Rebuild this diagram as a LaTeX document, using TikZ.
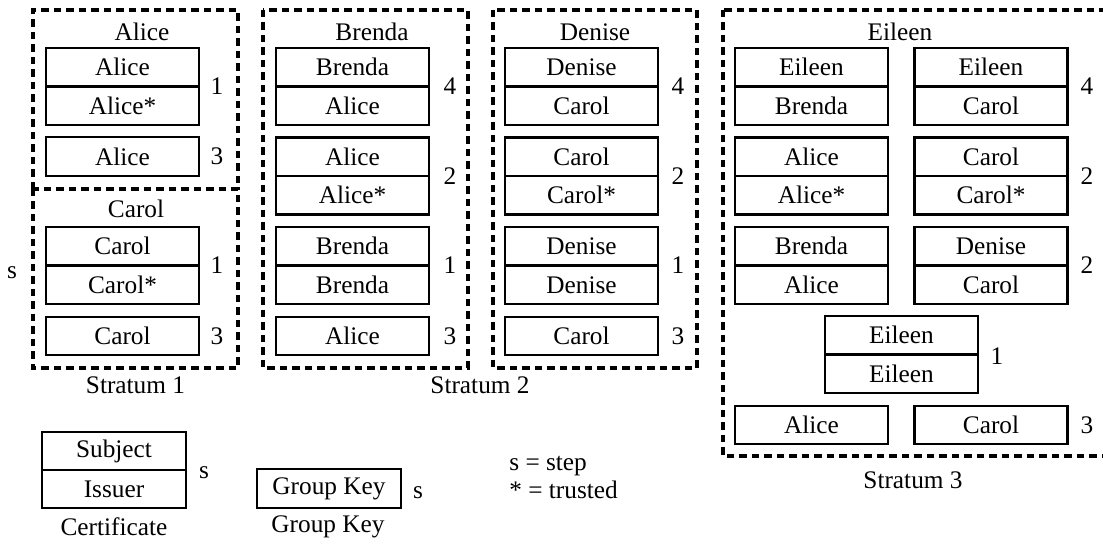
\documentclass[tikz,border=0pt]{standalone}
\usepackage{fontspec}
\setmainfont{Liberation Serif}

\tikzset{
    txt/.style = {inner sep=0pt, font=\fontsize{14.4}{17}\selectfont},
    cell/.style = {txt, draw, line width=1.3pt, minimum width=3.06cm, minimum height=0.77cm},
    stratum/.style = {line width=1.9pt, dash pattern=on 0.15cm off 0.1cm},
}

\begin{document}
\begin{tikzpicture}[x=0.02cm, y=-0.02cm]
                \useasboundingbox ( 0, 0 ) rectangle ( 1103, 544 );
                \clip ( 0, 0 ) rectangle ( 1103, 544 );

% страты (пунктир)
                \draw [stratum] ( 33, 189 ) -- ( 33, 10 ) -- ( 238, 10 ) -- ( 238, 189 );
                \draw [stratum] ( 33, 189 ) rectangle ( 238, 368 );
                \draw [stratum] ( 263, 10 ) rectangle ( 468, 368 );
                \draw [stratum] ( 493, 10 ) rectangle ( 697, 368 );
                \draw [stratum] ( 723, 10 ) rectangle ( 1125, 456 );

% Stratum 1
                \node [txt] (alice) at ( 142, 32 ) {Alice};
                \node [cell] (a1s) at ( 122.5, 67.25 ) {Alice};
                \node [cell] (a1i) at ( 122.5, 105.75 ) {Alice*};
                \node [txt] (a1n) at ( 217, 86.5 ) {1};
                \node [cell] (a3) at ( 122.5, 156.5 ) {Alice};
                \node [txt] (a3n) at ( 217, 156.5 ) {3};

                \node [txt] (carol) at ( 136, 209 ) {Carol};
                \node [cell] (c1s) at ( 122.5, 246.25 ) {Carol};
                \node [cell] (c1i) at ( 122.5, 284.75 ) {Carol*};
                \node [txt] (c1n) at ( 217, 265.5 ) {1};
                \node [cell] (c3) at ( 122.5, 336 ) {Carol};
                \node [txt] (c3n) at ( 217, 336 ) {3};
                \node [txt] (cs) at ( 12, 273 ) {s};
                \node [txt] (st1) at ( 135.5, 385 ) {Stratum 1};

% Stratum 2
                \node [txt] (brenda) at ( 372, 32 ) {Brenda};
                \node [cell] (b4s) at ( 352.5, 67.25 ) {Brenda};
                \node [cell] (b4i) at ( 352.5, 105.75 ) {Alice};
                \node [txt] (b4n) at ( 450, 86.5 ) {4};
                \node [cell] (b2s) at ( 352.5, 156.75 ) {Alice};
                \node [cell] (b2i) at ( 352.5, 195.25 ) {Alice*};
                \node [txt] (b2n) at ( 450, 176 ) {2};
                \node [cell] (b1s) at ( 352.5, 246.25 ) {Brenda};
                \node [cell] (b1i) at ( 352.5, 284.75 ) {Brenda};
                \node [txt] (b1n) at ( 450, 265.5 ) {1};
                \node [cell] (b3) at ( 352.5, 336 ) {Alice};
                \node [txt] (b3n) at ( 450, 336 ) {3};

                \node [txt] (denise) at ( 595, 32 ) {Denise};
                \node [cell] (d4s) at ( 581.5, 67.25 ) {Denise};
                \node [cell] (d4i) at ( 581.5, 105.75 ) {Carol};
                \node [txt] (d4n) at ( 678, 86.5 ) {4};
                \node [cell] (d2s) at ( 581.5, 156.75 ) {Carol};
                \node [cell] (d2i) at ( 581.5, 195.25 ) {Carol*};
                \node [txt] (d2n) at ( 678, 176 ) {2};
                \node [cell] (d1s) at ( 581.5, 246.25 ) {Denise};
                \node [cell] (d1i) at ( 581.5, 284.75 ) {Denise};
                \node [txt] (d1n) at ( 678, 265.5 ) {1};
                \node [cell] (d3) at ( 581.5, 336 ) {Carol};
                \node [txt] (d3n) at ( 678, 336 ) {3};
                \node [txt] (st2) at ( 480, 385 ) {Stratum 2};

% Stratum 3
                \node [txt] (eileen) at ( 900, 32 ) {Eileen};
                \node [cell] (e4as) at ( 811.5, 67.25 ) {Eileen};
                \node [cell] (e4ai) at ( 811.5, 105.75 ) {Brenda};
                \node [cell] (e4bs) at ( 991, 67.25 ) {Eileen};
                \node [cell] (e4bi) at ( 991, 105.75 ) {Carol};
                \node [txt] (e4n) at ( 1087, 86.5 ) {4};
                \node [cell] (e2as) at ( 811.5, 156.75 ) {Alice};
                \node [cell] (e2ai) at ( 811.5, 195.25 ) {Alice*};
                \node [cell] (e2bs) at ( 991, 156.75 ) {Carol};
                \node [cell] (e2bi) at ( 991, 195.25 ) {Carol*};
                \node [txt] (e2n) at ( 1087, 176 ) {2};
                \node [cell] (e5as) at ( 811.5, 246.25 ) {Brenda};
                \node [cell] (e5ai) at ( 811.5, 284.75 ) {Alice};
                \node [cell] (e5bs) at ( 991, 246.25 ) {Denise};
                \node [cell] (e5bi) at ( 991, 284.75 ) {Carol};
                \node [txt] (e5n) at ( 1087, 265.5 ) {2};
                \node [cell] (e1s) at ( 901.5, 335.25 ) {Eileen};
                \node [cell] (e1i) at ( 901.5, 373.75 ) {Eileen};
                \node [txt] (e1n) at ( 997, 356 ) {1};
                \node [cell] (e3a) at ( 811.5, 425 ) {Alice};
                \node [cell] (e3b) at ( 991, 425 ) {Carol};
                \node [txt] (e3n) at ( 1087, 425 ) {3};
                \node [txt] (st3) at ( 913, 480 ) {Stratum 3};

% легенда
                \node [cell, minimum width=2.88cm, minimum height=0.76cm] (subj) at ( 114, 451 ) {Subject};
                \node [cell, minimum width=2.88cm, minimum height=0.76cm] (iss) at ( 114, 489 ) {Issuer};
                \node [txt] (certs) at ( 204, 473 ) {s};
                \node [txt] (cert) at ( 114, 527 ) {Certificate};

                \node [cell, minimum width=2.88cm, minimum height=0.78cm] (gkey) at ( 329, 488.5 ) {Group Key};
                \node [txt] (gkeys) at ( 418, 493 ) {s};
                \node [txt] (gkeyl) at ( 328, 527 ) {Group Key};

                \node [txt, anchor=west] (lgs) at ( 509, 466 ) {s = step};
                \node [txt, anchor=west] (lgt) at ( 509, 490 ) {* = trusted};
            \end{tikzpicture}
\end{document}
